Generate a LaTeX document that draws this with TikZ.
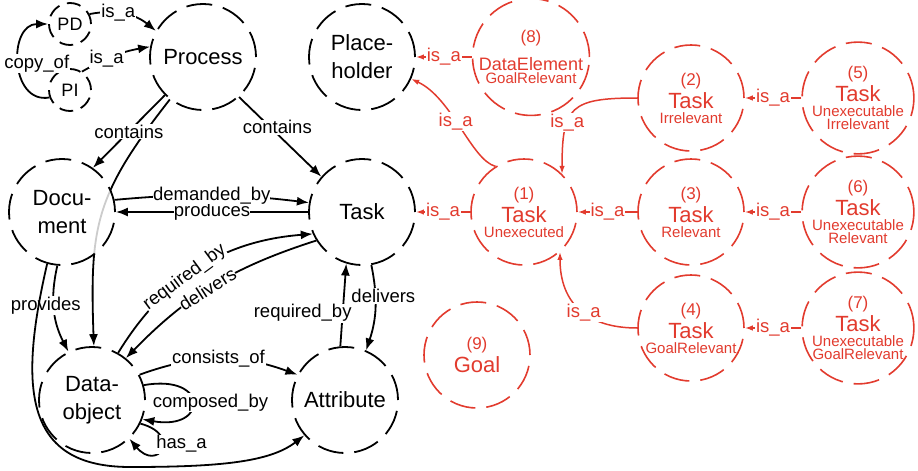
\documentclass[tikz,border=0pt]{standalone}
\usepackage{fontspec}
\setmainfont{Liberation Sans}
\usetikzlibrary{positioning, arrows.meta, backgrounds}
\definecolor{rcolor}{HTML}{E23B2E}
\newcommand{\nfont}{\fontsize{17}{17}\selectfont}
\newcommand{\tfont}{\fontsize{22}{22}\selectfont}

\begin{document}
\begin{tikzpicture}[x=1pt, y=1pt,
    concept/.style={circle, draw, fill=white, line width=1.8pt, dash pattern=on 26pt off 11pt, minimum size=106pt, inner sep=0pt, align=center, font=\fontsize{22}{28}\selectfont},
    small/.style={concept, minimum size=42pt, dash pattern=on 14pt off 8pt, font=\fontsize{18}{20}\selectfont},
    rnode/.style={concept, draw=rcolor, text=rcolor, line width=1.6pt, font=\fontsize{15}{13.5}\selectfont},
    arr/.style={-{Latex[length=12pt, width=9pt]}, line width=1.8pt},
    rarr/.style={-{Latex[length=8pt, width=5.5pt]}, line width=1.5pt, draw=rcolor},
    lbl/.style={fill=white, inner sep=1pt, font=\fontsize{18.5}{19}\selectfont},
    rlbl/.style={lbl, text=rcolor},
  ]
  \useasboundingbox (0,0) rectangle (918,-471);

  % process model
  \node[small] (pd) at (70,-24) {PD};
  \node[small] (pi) at (70,-90) {PI};
  \node[concept] (proc) at (203,-57) {Process};
  \node[concept] (ph) at (362,-57) {Place-\\holder};
  \node[concept, fill opacity=.8, text opacity=1] (doc) at (62,-212) {Docu-\\ment};
  \node[concept] (task) at (362,-212) {Task};
  \node[concept] (dobj) at (92,-400) {Data-\\object};
  \node[concept] (attr) at (345,-400) {Attribute};

  % task states
  \node[rnode] (de) at (531,-57) {{\nfont (8)}\\[10pt]{\fontsize{18}{18}\selectfont DataElement}\\GoalRelevant};
  \node[rnode] (t1) at (524,-212) {{\nfont (1)}\\[3pt]{\tfont Task}\\[1pt]Unexecuted};
  \node[rnode, on grid, right=167pt of t1] (t3) {{\nfont (3)}\\[3pt]{\tfont Task}\\[1pt]Relevant};
  \node[rnode, on grid, above=114pt of t3] (t2) {{\nfont (2)}\\[3pt]{\tfont Task}\\[1pt]Irrelevant};
  \node[rnode, on grid, below=116pt of t3] (t4) {{\nfont (4)}\\[3pt]{\tfont Task}\\[1pt]GoalRelevant};
  \node[rnode, on grid, right=167pt of t2] (t5) {{\nfont (5)}\\[3pt]{\tfont Task}\\[1pt]Unexecutable\\Irrelevant};
  \node[rnode, on grid, right=167pt of t3] (t6) {{\nfont (6)}\\[3pt]{\tfont Task}\\[1pt]Unexecutable\\Relevant};
  \node[rnode, on grid, right=167pt of t4] (t7) {{\nfont (7)}\\[3pt]{\tfont Task}\\[1pt]Unexecutable\\GoalRelevant};
  \node[rnode] (goal) at (477,-355) {{\nfont (9)}\\[3pt]{\tfont Goal}};

  \begin{pgfonlayer}{background}
    \draw[arr] (proc.232) to[out=-128, in=92, looseness=1.2] (dobj.88);
  \end{pgfonlayer}

  \draw[arr] (pd.27) to[bend left=25] node[lbl, pos=.4]{is\_a} (proc.151);
  \draw[arr] (pi.57) to[bend left=10] node[lbl, pos=.37]{is\_a} (proc.169);
  \draw[arr] (pi.200) to[out=190, in=180, looseness=1.4] node[lbl, xshift=18pt]{copy\_of} (pd.west);
  \draw[arr] (proc.225) -- node[lbl]{contains} (doc.55);
  \draw[arr] (proc.-48) -- node[lbl, pos=.38, xshift=7pt]{contains} (task.139);
  \draw[arr] (task.west) -- node[lbl, inner sep=0pt]{produces} (doc.east);
  \draw[arr] (doc.13) to[bend left=6] node[lbl, inner sep=0pt]{demanded\_by} (task.170);
  \draw[arr] (task.212) to[bend right=14] node[lbl, sloped, inner sep=0pt, pos=.53]{delivers} (dobj.51);
  \draw[arr] (dobj.61) to[bend left=27] node[lbl, sloped, inner sep=0pt, pos=.42]{required\_by} (task.204);
  \draw[arr] (attr.95) -- node[lbl, pos=.4, xshift=-40pt]{required\_by} (task.253);
  \draw[arr] (task.280) to[bend left=15] node[lbl, pos=.35, xshift=8pt]{delivers} (attr.67);
  \draw[arr] (doc.265) to[bend right=20] node[lbl, pos=.45, xshift=-8pt]{provides} (dobj.116);
  \draw[arr] (doc.254) .. controls (18,-390) and (25,-467) .. (130,-467)
    .. controls (220,-467) and (270,-462) .. (attr.221);
  \draw[arr] (dobj.28) to[bend left=20] node[lbl]{consists\_of} (attr.152);
  \draw[arr] (dobj.16) to[out=10, in=-10, looseness=5] node[lbl, xshift=18pt]{composed\_by} (dobj.-21);
  \draw[arr] (dobj.-26) to[out=-15, in=-50, looseness=6] node[lbl, xshift=20pt, yshift=4pt]{has\_a} (dobj.-46);

  % is_a between the states
  \draw[rarr] (de) -- node[rlbl]{is\_a} (ph);
  \draw[rarr] (t1.122) to[out=165, in=-25, out distance=25pt, in distance=45pt] node[rlbl, pos=.55]{is\_a} (ph.-24);
  \draw[rarr] (t1) -- node[rlbl]{is\_a} (task);
  \draw[rarr] (t2.west) to[out=180, in=90, looseness=1.6] node[rlbl, pos=.65]{is\_a} (t1.45);
  \draw[rarr] (t3) -- node[rlbl]{is\_a} (t1);
  \draw[rarr] (t4.west) to[out=180, in=-90, looseness=1.2] node[rlbl, pos=.45]{is\_a} (t1.-48);
  \draw[rarr] (t5) -- node[rlbl]{is\_a} (t2);
  \draw[rarr] (t6) -- node[rlbl]{is\_a} (t3);
  \draw[rarr] (t7) -- node[rlbl]{is\_a} (t4);
\end{tikzpicture}
\end{document}
